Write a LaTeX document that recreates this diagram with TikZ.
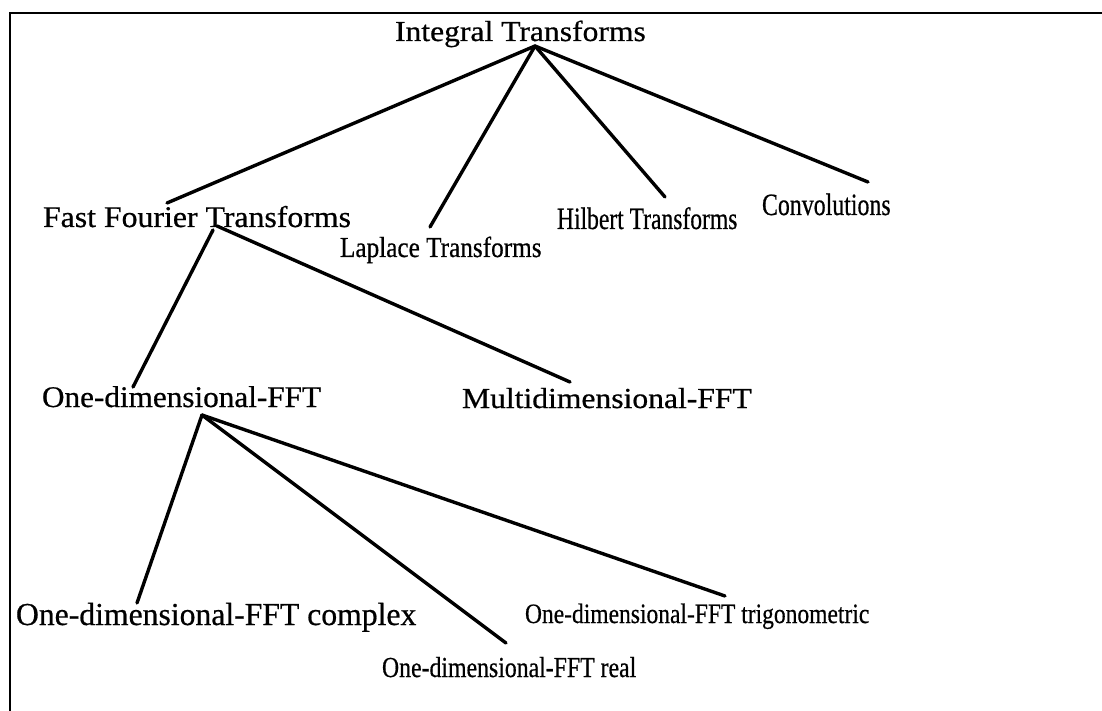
\documentclass[tikz,border=0pt]{standalone}
\usepackage{fontspec}
\usepackage{graphicx}
\setmainfont{Liberation Serif}[FakeBold=0.6]
\begin{document}
\begin{tikzpicture}[x=1pt,y=-1pt,
  lbl/.style={anchor=base west,inner sep=0pt,outer sep=0pt,text=black},
  edge/.style={draw=black,line width=3.4pt,line cap=round},
  frame/.style={draw=black,line width=2pt}]
\useasboundingbox (0,0) rectangle (1102,711);
% partial frame
\coordinate (ftl) at (10,13);
\coordinate (ftr) at (1102,13);
\coordinate (fbl) at (10,711);
\draw[frame] (ftr) -- (ftl) -- (fbl);
% labels
\node[lbl,font=\fontsize{29}{29}\selectfont] (root) at (395,41) {\scalebox{1.09}[1]{Integral Transforms}};
\node[lbl,font=\fontsize{30}{30}\selectfont] (fft) at (43,227) {\scalebox{1.06}[1]{Fast Fourier Transforms}};
\node[lbl,font=\fontsize{29}{29}\selectfont] (lap) at (340,257) {\scalebox{0.87}[1]{Laplace Transforms}};
\node[lbl,font=\fontsize{31}{31}\selectfont] (hil) at (557,229) {\scalebox{0.76}[1]{Hilbert Transforms}};
\node[lbl,font=\fontsize{31}{31}\selectfont] (conv) at (762,215) {\scalebox{0.77}[1]{Convolutions}};
\node[lbl,font=\fontsize{30}{30}\selectfont] (one) at (42,407) {\scalebox{1.04}[1]{One-dimensional-FFT}};
\node[lbl,font=\fontsize{29}{29}\selectfont] (multi) at (462,408) {\scalebox{1.09}[1]{Multidimensional-FFT}};
\node[lbl,font=\fontsize{32}{32}\selectfont] (cplx) at (16,625) {\scalebox{0.99}[1]{One-dimensional-FFT complex}};
\node[lbl,font=\fontsize{29}{29}\selectfont] (real) at (382,677) {\scalebox{0.82}[1]{One-dimensional-FFT real}};
\node[lbl,font=\fontsize{28}{28}\selectfont] (trig) at (525,623) {\scalebox{0.84}[1]{One-dimensional-FFT trigonometric}};
% connector end points
\coordinate (root-s) at (535,46);
\coordinate (fft-n) at (167,203);
\coordinate (lap-n) at (430,227);
\coordinate (hil-n) at (665,197);
\coordinate (conv-n) at (868,182);
\coordinate (fft-s1) at (213,230);
\coordinate (fft-s2) at (217,226);
\coordinate (one-n) at (133,387);
\coordinate (multi-n) at (570,382);
\coordinate (one-s) at (202,415);
\coordinate (cplx-n) at (137,603);
\coordinate (real-n) at (506,643);
\coordinate (trig-n) at (725,596);
% connectors
\draw[edge] (root-s) -- (fft-n);
\draw[edge] (root-s) -- (lap-n);
\draw[edge] (root-s) -- (hil-n);
\draw[edge] (root-s) -- (conv-n);
\draw[edge] (fft-s1) -- (one-n);
\draw[edge] (fft-s2) -- (multi-n);
\draw[edge] (one-s) -- (cplx-n);
\draw[edge] (one-s) -- (real-n);
\draw[edge] (one-s) -- (trig-n);
\end{tikzpicture}
\end{document}
